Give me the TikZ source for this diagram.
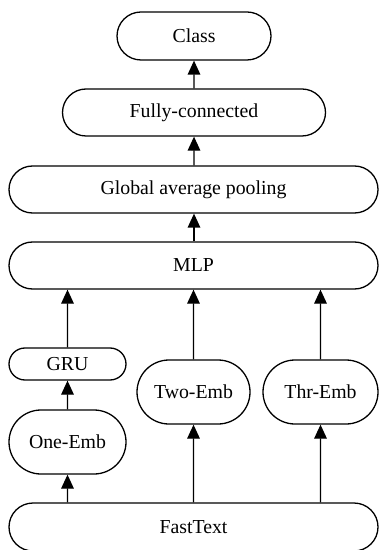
\documentclass[tikz,border=0pt]{standalone}
\usepackage{fontspec}
\setmainfont{Liberation Serif}
\usetikzlibrary{shapes.misc,arrows.meta}

\tikzset{
  blk/.style={rounded rectangle,draw,line width=0.65pt,inner sep=0pt,
    font=\fontsize{9.9}{12}\selectfont},
  up/.style={line width=0.65pt,-{Triangle[width=6.3pt,length=7pt]}}
}

\begin{document}
\begin{tikzpicture}[x=0.5pt,y=-0.5pt]
\useasboundingbox (0,0) rectangle (379,550);
% top part
\node [blk,minimum width=77pt,minimum height=24pt] (cls) at (194,36) {Class};
\node [blk,minimum width=131.5pt,minimum height=23.5pt] (fc) at (194,112.5) {Fully-connected};
\node [blk,minimum width=184.5pt,minimum height=23.5pt] (gap) at (193.5,189.5) {Global average pooling};
\node [blk,minimum width=184.5pt,minimum height=23.5pt] (mlp) at (193.5,265.5) {MLP};
% three branches
\node [blk,minimum width=58.5pt,minimum height=16pt] (gru) at (67.5,364) {GRU};
\node [blk,minimum width=58.5pt,minimum height=32pt] (one) at (67.5,442) {One-Emb};
\node [blk,minimum width=56.5pt,minimum height=32pt] (two) at (193.5,392) {Two-Emb};
\node [blk,minimum width=57.5pt,minimum height=32pt] (thr) at (320.5,392) {Thr-Emb};
\node [blk,minimum width=184.5pt,minimum height=24pt] (ft) at (193.5,527) {FastText};

\draw [up] (fc) -- (cls);
\draw [up] (gap.north -| fc) -- (fc);
\draw [up] (mlp.north -| fc) -- (gap.south -| fc);
\draw [up] (gru) -- (mlp.south -| gru);
\draw [up] (two) -- (mlp.south -| two);
\draw [up] (thr) -- (mlp.south -| thr);
\draw [up] (one) -- (gru);
\draw [up] (ft.north -| one) -- (one);
\draw [up] (ft.north -| two) -- (two);
\draw [up] (ft.north -| thr) -- (thr);
\end{tikzpicture}
\end{document}
